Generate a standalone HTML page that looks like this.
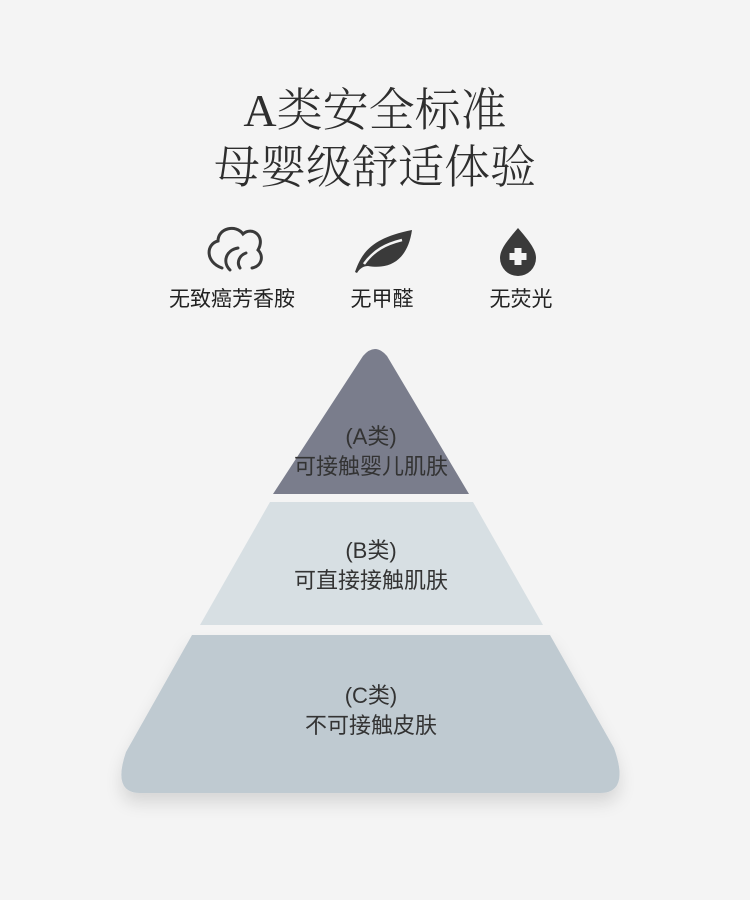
<!DOCTYPE html>
<html><head><meta charset="utf-8"><style>
body{margin:0;width:750px;height:900px;background:#f4f4f4;overflow:hidden;font-family:"Liberation Sans","Noto Sans CJK SC",sans-serif;}
.t{position:absolute;left:0;width:750px;text-align:center;color:#2e2e2e;font-family:"Liberation Serif","Noto Serif CJK SC",serif;font-size:46px;font-weight:300;}
.l{position:absolute;text-align:center;color:#222;font-size:21px;width:200px;}
</style></head><body>
<div class="t" style="top:74px">A类安全标准</div>
<div class="t" style="top:131px">母婴级舒适体验</div>
<svg width="750" height="900" style="position:absolute;left:0;top:0">
<defs><filter id="s" x="-20%" y="-20%" width="140%" height="160%"><feDropShadow dx="0" dy="10" stdDeviation="8" flood-color="#000" flood-opacity="0.12"/></filter></defs>
<g fill="none" stroke="#3a3a3a" stroke-width="3" stroke-linecap="round">
<path d="M222 268 C205 262 206 244 218 241 C218 228 236 224 243 234 C252 226 266 236 258 250 C264 256 262 266 252 268"/>
<path d="M230 270 C222 262 226 250 238 248"/>
<path d="M240 268 C236 262 240 255 246 253"/>
</g>
<path d="M355 272 C362 252 372 238 412 230 C408 258 392 270 368 266 C364 266 360 268 357 273 Z" fill="#3a3a3a"/>
<path d="M364 264 C374 250 386 244 402 240" stroke="#f4f4f4" stroke-width="2.5" fill="none"/>
<path d="M518 228 C530 242 536 250 536 258 A18 18 0 0 1 500 258 C500 250 506 242 518 228 Z" fill="#3a3a3a"/>
<rect x="514.5" y="248" width="7" height="17" fill="#f4f4f4"/><rect x="509.5" y="253" width="17" height="7" fill="#f4f4f4"/>
<path d="M363 356 Q375 342 387 356 L469 494 L273 494 Z" fill="#7a7d8c"/>
<path d="M270 502 L473 502 L543 625 L200 625 Z" fill="#d7dfe3"/>
<path d="M192 635 L550 635 L614 748 Q630 793 600 793 L140 793 Q112 793 126 752 Z" fill="#bfcad1" filter="url(#s)"/>
<g font-size="22" fill="#333" text-anchor="middle" font-family="Liberation Sans,Noto Sans CJK SC,sans-serif">
<text x="371" y="444">(A类)</text><text x="371" y="474">可接触婴儿肌肤</text>
<text x="371" y="558">(B类)</text><text x="371" y="588">可直接接触肌肤</text>
<text x="371" y="703">(C类)</text><text x="371" y="733">不可接触皮肤</text>
</g>
</svg>
<div class="l" style="left:132px;top:283px">无致癌芳香胺</div>
<div class="l" style="left:282px;top:283px">无甲醛</div>
<div class="l" style="left:421px;top:283px">无荧光</div>
</body></html>
